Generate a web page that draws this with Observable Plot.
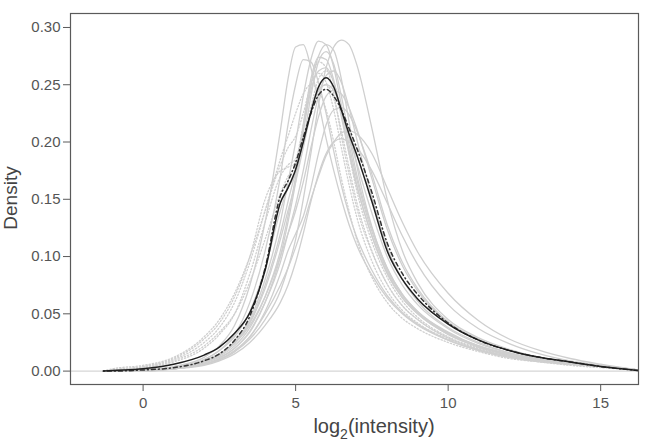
<!DOCTYPE html>
<html><head><meta charset="utf-8">
<script src="https://cdn.jsdelivr.net/npm/d3@7"></script>
<script src="https://cdn.jsdelivr.net/npm/@observablehq/plot@0.6"></script>
<style>body{margin:0;background:#fff}#chart{width:647px;height:444px}</style>
</head><body><div id="chart"></div>
<script>
// shared x grid (log2 intensity)
const xGrid = [-1.3,-1,0,1,2,2.5,3,3.5,4,4.5,4.75,5,5.25,5.5,5.75,6,6.25,6.5,6.75,7,7.5,8,8.5,9,10,11,12,13,14,15,16.24];
// summary curves
const meanCurve   = [0,0.0005,0.002,0.006,0.014,0.021,0.033,0.051,0.088,0.147,0.16,0.176,0.2,0.226,0.248,0.256,0.248,0.228,0.207,0.189,0.148,0.105,0.08,0.063,0.041,0.027,0.018,0.012,0.008,0.004,0.0005];
const medianCurve = [0,0,0.001,0.003,0.009,0.015,0.027,0.048,0.09,0.153,0.166,0.182,0.204,0.225,0.241,0.246,0.24,0.228,0.212,0.195,0.156,0.112,0.085,0.067,0.042,0.027,0.018,0.012,0.008,0.004,0.0005];
// individual samples (solid)
const s01 = [0,0,0.001,0.004,0.012,0.022,0.04,0.075,0.13,0.21,0.255,0.283,0.285,0.265,0.235,0.203,0.175,0.15,0.128,0.11,0.084,0.064,0.05,0.04,0.027,0.018,0.012,0.009,0.006,0.004,0.001];
const s02 = [0,0,0.001,0.003,0.009,0.015,0.026,0.045,0.08,0.13,0.165,0.2,0.24,0.272,0.288,0.285,0.265,0.232,0.198,0.168,0.122,0.088,0.066,0.051,0.033,0.022,0.014,0.01,0.007,0.004,0.001];
const s03 = [0,0,0.001,0.002,0.006,0.01,0.017,0.028,0.045,0.07,0.09,0.115,0.15,0.19,0.232,0.265,0.283,0.289,0.285,0.268,0.212,0.15,0.105,0.077,0.045,0.029,0.019,0.012,0.008,0.005,0.001];
const s04 = [0,0,0.001,0.003,0.01,0.018,0.03,0.052,0.09,0.14,0.16,0.172,0.2,0.24,0.27,0.279,0.268,0.24,0.205,0.172,0.125,0.09,0.067,0.052,0.034,0.022,0.015,0.01,0.007,0.004,0.001];
const s05 = [0,0,0.001,0.003,0.01,0.018,0.032,0.06,0.105,0.17,0.215,0.25,0.272,0.27,0.252,0.225,0.192,0.162,0.137,0.117,0.088,0.066,0.051,0.041,0.027,0.018,0.012,0.008,0.006,0.004,0.001];
const s07 = [0,0,0,0.002,0.006,0.011,0.02,0.035,0.06,0.095,0.12,0.145,0.175,0.21,0.24,0.258,0.262,0.252,0.23,0.203,0.152,0.108,0.08,0.061,0.038,0.025,0.016,0.011,0.007,0.004,0.001];
const s08 = [0,0,0.001,0.003,0.008,0.014,0.024,0.04,0.065,0.1,0.12,0.14,0.165,0.195,0.222,0.24,0.245,0.242,0.23,0.212,0.168,0.124,0.092,0.07,0.042,0.027,0.018,0.012,0.008,0.005,0.001];
const s09 = [0,0,0.001,0.002,0.006,0.01,0.017,0.03,0.05,0.075,0.09,0.108,0.128,0.15,0.17,0.188,0.2,0.208,0.21,0.207,0.19,0.16,0.13,0.104,0.068,0.044,0.028,0.018,0.011,0.006,0.001];
const s10 = [0,0,0,0.002,0.005,0.009,0.015,0.025,0.04,0.06,0.075,0.095,0.12,0.148,0.172,0.19,0.2,0.203,0.2,0.195,0.175,0.147,0.118,0.093,0.058,0.037,0.024,0.015,0.009,0.005,0.001];
const s13 = [0,0,0.001,0.003,0.008,0.013,0.022,0.038,0.065,0.105,0.135,0.17,0.215,0.255,0.274,0.272,0.254,0.222,0.19,0.162,0.118,0.086,0.064,0.05,0.032,0.021,0.014,0.01,0.007,0.004,0.001];
const s14 = [0,0,0.001,0.002,0.007,0.012,0.02,0.034,0.06,0.1,0.13,0.165,0.21,0.25,0.275,0.285,0.28,0.255,0.218,0.18,0.126,0.09,0.067,0.052,0.033,0.022,0.015,0.01,0.007,0.004,0.001];
const s15 = [0,0,0.001,0.002,0.006,0.01,0.018,0.03,0.052,0.085,0.105,0.12,0.135,0.16,0.19,0.215,0.228,0.23,0.224,0.21,0.172,0.128,0.095,0.072,0.043,0.028,0.018,0.012,0.008,0.005,0.001];
const s17 = [0,0,0.001,0.003,0.009,0.015,0.025,0.043,0.075,0.12,0.148,0.175,0.21,0.245,0.262,0.265,0.252,0.225,0.193,0.163,0.118,0.085,0.064,0.05,0.032,0.021,0.014,0.01,0.007,0.004,0.001];
const s18 = [0,0,0.001,0.003,0.008,0.014,0.024,0.042,0.072,0.115,0.14,0.165,0.195,0.225,0.245,0.25,0.245,0.228,0.205,0.182,0.138,0.1,0.075,0.058,0.037,0.024,0.016,0.011,0.007,0.004,0.001];
// individual samples (dotted)
const s06 = [0,0.001,0.003,0.008,0.02,0.032,0.05,0.085,0.13,0.17,0.18,0.185,0.215,0.25,0.27,0.265,0.242,0.205,0.172,0.143,0.104,0.076,0.057,0.045,0.029,0.019,0.013,0.009,0.006,0.004,0.001];
const s11 = [0,0.001,0.004,0.01,0.025,0.038,0.06,0.095,0.14,0.185,0.205,0.225,0.242,0.25,0.245,0.228,0.2,0.168,0.14,0.115,0.082,0.06,0.046,0.037,0.025,0.017,0.011,0.008,0.005,0.003,0.001];
const s12 = [0,0.001,0.003,0.009,0.022,0.034,0.05,0.078,0.115,0.155,0.17,0.18,0.2,0.23,0.255,0.262,0.252,0.225,0.19,0.158,0.113,0.082,0.061,0.047,0.03,0.02,0.013,0.009,0.006,0.004,0.001];
const s16 = [0,0.002,0.005,0.012,0.03,0.045,0.068,0.1,0.14,0.18,0.195,0.205,0.225,0.25,0.26,0.252,0.228,0.195,0.163,0.135,0.096,0.07,0.053,0.042,0.028,0.019,0.013,0.009,0.006,0.004,0.001];
const s19 = [0,0.001,0.004,0.011,0.028,0.042,0.065,0.1,0.15,0.175,0.178,0.182,0.2,0.225,0.245,0.25,0.238,0.21,0.178,0.148,0.105,0.076,0.057,0.045,0.029,0.019,0.013,0.009,0.006,0.004,0.001];

const xTicks = [0,5,10,15];
const yTicks = [0,0.05,0.10,0.15,0.20,0.25,0.30];

const solidSamples = {s01,s02,s03,s04,s05,s07,s08,s09,s10,s13,s14,s15,s17,s18};
const dottedSamples = {s06,s11,s12,s16,s19};

function rows(obj){
  const out=[];
  for (const [id,vals] of Object.entries(obj)) vals.forEach((y,i)=>{ if(i<xGrid.length) out.push({id,x:xGrid[i],y}); });
  return out;
}
const solidRows = rows(solidSamples);
const dottedRows = rows(dottedSamples);
const meanRows = rows({meanCurve});
const medianRows = rows({medianCurve});

const axisColor = "#5a5a5a";
const font = "'Liberation Sans', Arial, sans-serif";
const plot = Plot.plot({
  width: 647, height: 444,
  marginLeft: 70, marginRight: 9, marginTop: 13, marginBottom: 60,
  style: {fontFamily: font, fontSize: "15px", background: "#fff"},
  x: {domain: [-2.38, 16.24], label: null},
  y: {domain: [-0.0117, 0.3122], label: null},
  marks: [
    Plot.ruleY([0], {stroke: "#cccccc", strokeWidth: 1}),
    Plot.line(solidRows, {x:"x", y:"y", z:"id", stroke:"#cfcfcf", strokeWidth:1.3, curve:"monotone-x", clip:true}),
    Plot.line(dottedRows, {x:"x", y:"y", z:"id", stroke:"#cfcfcf", strokeWidth:1.3, strokeDasharray:"1.3,2", curve:"monotone-x", clip:true}),
    Plot.line(medianRows, {x:"x", y:"y", stroke:"#333", strokeWidth:1.5, strokeDasharray:"1,3,4,3", curve:"monotone-x", clip:true}),
    Plot.line(meanRows, {x:"x", y:"y", stroke:"#1e1e1e", strokeWidth:1.5, curve:"monotone-x", clip:true}),
    Plot.frame({stroke: axisColor, strokeWidth: 1.2}),
    Plot.axisY(yTicks, {tickSize: 7, tickPadding: 3, tickFormat: d3.format(".2f"), stroke: axisColor, fill: "#555", label: null, fontSize: 15}),
    Plot.axisX(xTicks, {tickSize: 7, tickPadding: 6, stroke: axisColor, fill: "#555", label: null, fontSize: 15})
  ]
});
const svg = d3.select(plot);
const xt = svg.append("text").attr("x", 374).attr("y", 433).attr("text-anchor","middle")
  .attr("fill","#444").style("font-size","20px").style("font-family", font);
xt.append("tspan").text("log");
xt.append("tspan").attr("dy", 6).style("font-size","14px").text("2");
xt.append("tspan").attr("dy", -6).text("(intensity)");
svg.append("text").attr("transform","translate(17,198) rotate(-90)").attr("text-anchor","middle")
  .attr("fill","#444").style("font-size","19px").style("font-family", font).text("Density");
document.getElementById("chart").appendChild(plot);
</script>
</body></html>
